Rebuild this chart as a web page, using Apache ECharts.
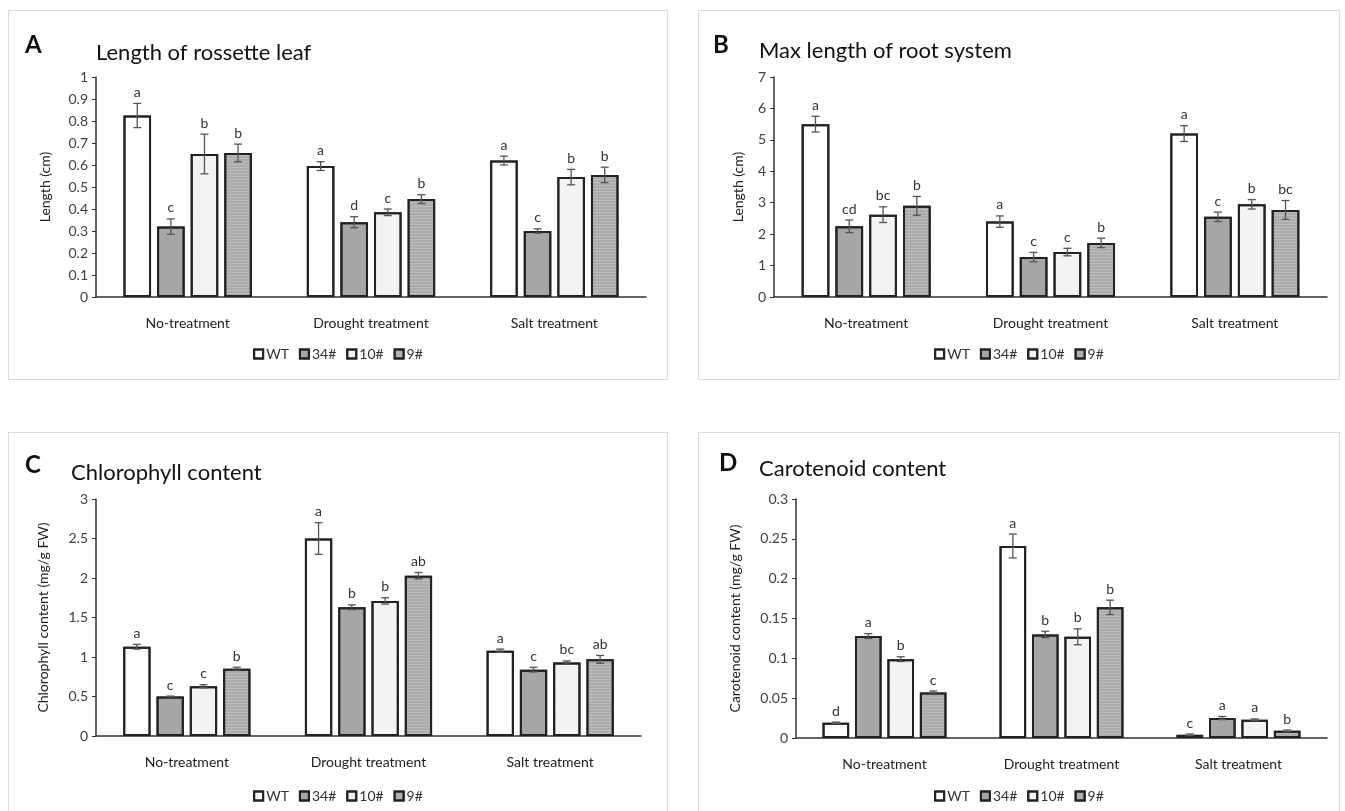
<!DOCTYPE html>
<html>
<head>
<meta charset="utf-8">
<script src="https://cdn.jsdelivr.net/npm/echarts@6/dist/echarts.min.js"></script>
<style>
  body { margin: 0; background: #fff; width: 1345px; height: 811px; overflow: hidden; position: relative; }
  .card { position: absolute; border: 1px solid #dcdcdc; box-sizing: border-box; background: #fff; }
</style>
</head>
<body>
<div id="pa" class="card" style="left:8px;top:10px;width:660px;height:370px"></div>
<div id="pb" class="card" style="left:698px;top:10px;width:642px;height:370px"></div>
<div id="pc" class="card" style="left:8px;top:432px;width:660px;height:390px"></div>
<div id="pd" class="card" style="left:698px;top:432px;width:642px;height:390px"></div>
<script>
// categories and lines
const groups = ["No-treatment", "Drought treatment", "Salt treatment"];
const lines = ["WT", "34#", "10#", "9#"];

// A: length of rosette leaf (rows = WT, 34#, 10#, 9#; cols = groups)
const leafMean = [[0.825, 0.595, 0.62], [0.32, 0.34, 0.30], [0.65, 0.385, 0.545], [0.655, 0.445, 0.555]];
const leafErr = [[0.055, 0.02, 0.02], [0.035, 0.025, 0.01], [0.09, 0.015, 0.035], [0.04, 0.02, 0.035]];
const leafLetters = [["a", "a", "a"], ["c", "d", "c"], ["b", "c", "b"], ["b", "b", "b"]];

// B: max length of root system
const rootMean = [[5.5, 2.4, 5.2], [2.25, 1.27, 2.55], [2.62, 1.43, 2.95], [2.9, 1.72, 2.77]];
const rootErr = [[0.25, 0.18, 0.25], [0.2, 0.15, 0.15], [0.25, 0.12, 0.15], [0.3, 0.15, 0.3]];
const rootLetters = [["a", "a", "a"], ["cd", "c", "c"], ["bc", "c", "b"], ["b", "b", "bc"]];

// C: chlorophyll content
const chlMean = [[1.13, 2.5, 1.08], [0.5, 1.63, 0.84], [0.63, 1.71, 0.93], [0.85, 2.03, 0.97]];
const chlErr = [[0.03, 0.2, 0.02], [0.005, 0.03, 0.03], [0.02, 0.04, 0.02], [0.02, 0.04, 0.05]];
const chlLetters = [["a", "a", "a"], ["c", "b", "c"], ["c", "b", "bc"], ["b", "ab", "ab"]];

// D: carotenoid content
const carMean = [[0.019, 0.241, 0.004], [0.128, 0.13, 0.025], [0.099, 0.127, 0.023], [0.057, 0.164, 0.009]];
const carErr = [[0.001, 0.015, 0.001], [0.003, 0.004, 0.002], [0.003, 0.01, 0.001], [0.002, 0.009, 0.001]];
const carLetters = [["d", "a", "c"], ["a", "b", "a"], ["b", "b", "a"], ["c", "b", "b"]];

const FONT = "Lato, 'Open Sans', sans-serif";
const GAP_CAT = 0.3, GAP_BAR = 0.22;
const NO_DECAL = { symbol: "rect", color: "rgba(0,0,0,0)" };

const barStyles = [
  { color: "#ffffff", borderColor: "#222", borderWidth: 2, decal: NO_DECAL },
  { color: "#a6a6a6", borderColor: "#222", borderWidth: 2, decal: NO_DECAL },
  { color: "#f3f3f3", borderColor: "#222", borderWidth: 2,
    decal: { symbol: "circle", symbolSize: 0.4, dashArrayX: [2, 2], dashArrayY: [2, 2], color: "rgba(0,0,0,0.07)" } },
  { color: "#acacac", borderColor: "#222", borderWidth: 2,
    decal: { symbol: "rect", dashArrayX: [1, 0], dashArrayY: [1, 2], color: "rgba(255,255,255,0.18)" } }
];

function errorSeries(i, mean, err, letters) {
  return {
    type: "custom",
    name: lines[i],
    z: 5,
    data: groups.map((g, k) => [k, mean[i][k], err[i][k]]),
    renderItem: function (params, api) {
      const k = api.value(0), m = api.value(1), e = api.value(2);
      const band = api.size([1, 0])[0];
      const w = band * (1 - GAP_CAT) / (4 + 3 * GAP_BAR);
      const x = api.coord([k, m])[0] - band * (1 - GAP_CAT) / 2 + i * w * (1 + GAP_BAR) + w / 2;
      const top = api.coord([k, m + e])[1];
      const bot = api.coord([k, Math.max(m - e, 0)])[1];
      const st = { stroke: "#555", lineWidth: 1.3 };
      return {
        type: "group",
        children: [
          { type: "line", shape: { x1: x, y1: top, x2: x, y2: bot }, style: st },
          { type: "line", shape: { x1: x - 4, y1: top, x2: x + 4, y2: top }, style: st },
          { type: "line", shape: { x1: x - 4, y1: bot, x2: x + 4, y2: bot }, style: st },
          { type: "text", style: { text: letters[i][params.dataIndex], x: x, y: top - 4,
              align: "center", verticalAlign: "bottom", fill: "#333", font: "14px " + FONT } }
        ]
      };
    }
  };
}

function makePanel(id, p) {
  const chart = echarts.init(document.getElementById(id));
  const series = [];
  lines.forEach((name, i) => {
    series.push({
      type: "bar", name: name,
      data: p.mean[i],
      barCategoryGap: "30%", barGap: "22%",
      itemStyle: barStyles[i],
      emphasis: { disabled: true }
    });
  });
  lines.forEach((name, i) => series.push(errorSeries(i, p.mean, p.err, p.letters)));
  chart.setOption({
    animation: false,
    aria: { enabled: true, decal: { show: true } },
    title: [
      { text: p.tag, left: p.tagX, top: p.tagY, padding: 0,
        textStyle: { fontFamily: FONT, fontSize: 24, fontWeight: "bold", color: "#111" } },
      { text: p.title, left: p.titleX, top: p.titleY, padding: 0,
        textStyle: { fontFamily: FONT, fontSize: 22, fontWeight: "normal", color: "#111" } }
    ],
    legend: {
      data: lines, top: p.legendY, left: "center",
      icon: "rect", itemWidth: 9, itemHeight: 9, itemGap: 10,
      textStyle: { fontFamily: FONT, fontSize: 14, color: "#333", padding: [0, 0, 0, -2] },
      selectedMode: false
    },
    grid: { left: p.left, top: p.top, width: p.width, height: p.height },
    xAxis: {
      type: "category", data: groups,
      axisLine: { lineStyle: { color: "#333", width: 1.5 } },
      axisTick: { inside: true, length: 5, lineStyle: { color: "#333" } },
      axisLabel: { margin: 19, fontFamily: FONT, fontSize: 14, color: "#222" }
    },
    yAxis: {
      type: "value", min: 0, max: p.max, interval: p.interval,
      name: p.yName, nameLocation: "middle", nameGap: p.nameGap,
      nameTextStyle: { fontFamily: FONT, fontSize: 14, color: "#222" },
      axisLine: { show: true, lineStyle: { color: "#333", width: 1.5 } },
      axisTick: { show: true, length: 4, lineStyle: { color: "#333" } },
      axisLabel: { fontFamily: FONT, fontSize: 14, color: "#404040", margin: 8 },
      splitLine: { show: false }
    },
    series: series
  });
}

makePanel("pa", { tag: "A", tagX: 16, tagY: 22, title: "Length of rossette leaf", titleX: 87, titleY: 31,
  legendY: 331, left: 87, top: 66, width: 550, height: 220, max: 1, interval: 0.1,
  yName: "Length (cm)", nameGap: 44, mean: leafMean, err: leafErr, letters: leafLetters });

makePanel("pb", { tag: "B", tagX: 14, tagY: 22, title: "Max length of root system", titleX: 60, titleY: 29,
  legendY: 331, left: 75, top: 66, width: 553, height: 220, max: 7, interval: 1,
  yName: "Length (cm)", nameGap: 29, mean: rootMean, err: rootErr, letters: rootLetters });

makePanel("pc", { tag: "C", tagX: 16, tagY: 20, title: "Chlorophyll content", titleX: 62, titleY: 29,
  legendY: 351, left: 87, top: 66, width: 545, height: 237, max: 3, interval: 0.5,
  yName: "Chlorophyll content (mg/g FW)", nameGap: 46, mean: chlMean, err: chlErr, letters: chlLetters });

makePanel("pd", { tag: "D", tagX: 20, tagY: 18, title: "Carotenoid content", titleX: 60, titleY: 25,
  legendY: 351, left: 97, top: 66, width: 531, height: 239, max: 0.3, interval: 0.05,
  yName: "Carotenoid content (mg/g FW)", nameGap: 54, mean: carMean, err: carErr, letters: carLetters });
</script>
</body>
</html>
